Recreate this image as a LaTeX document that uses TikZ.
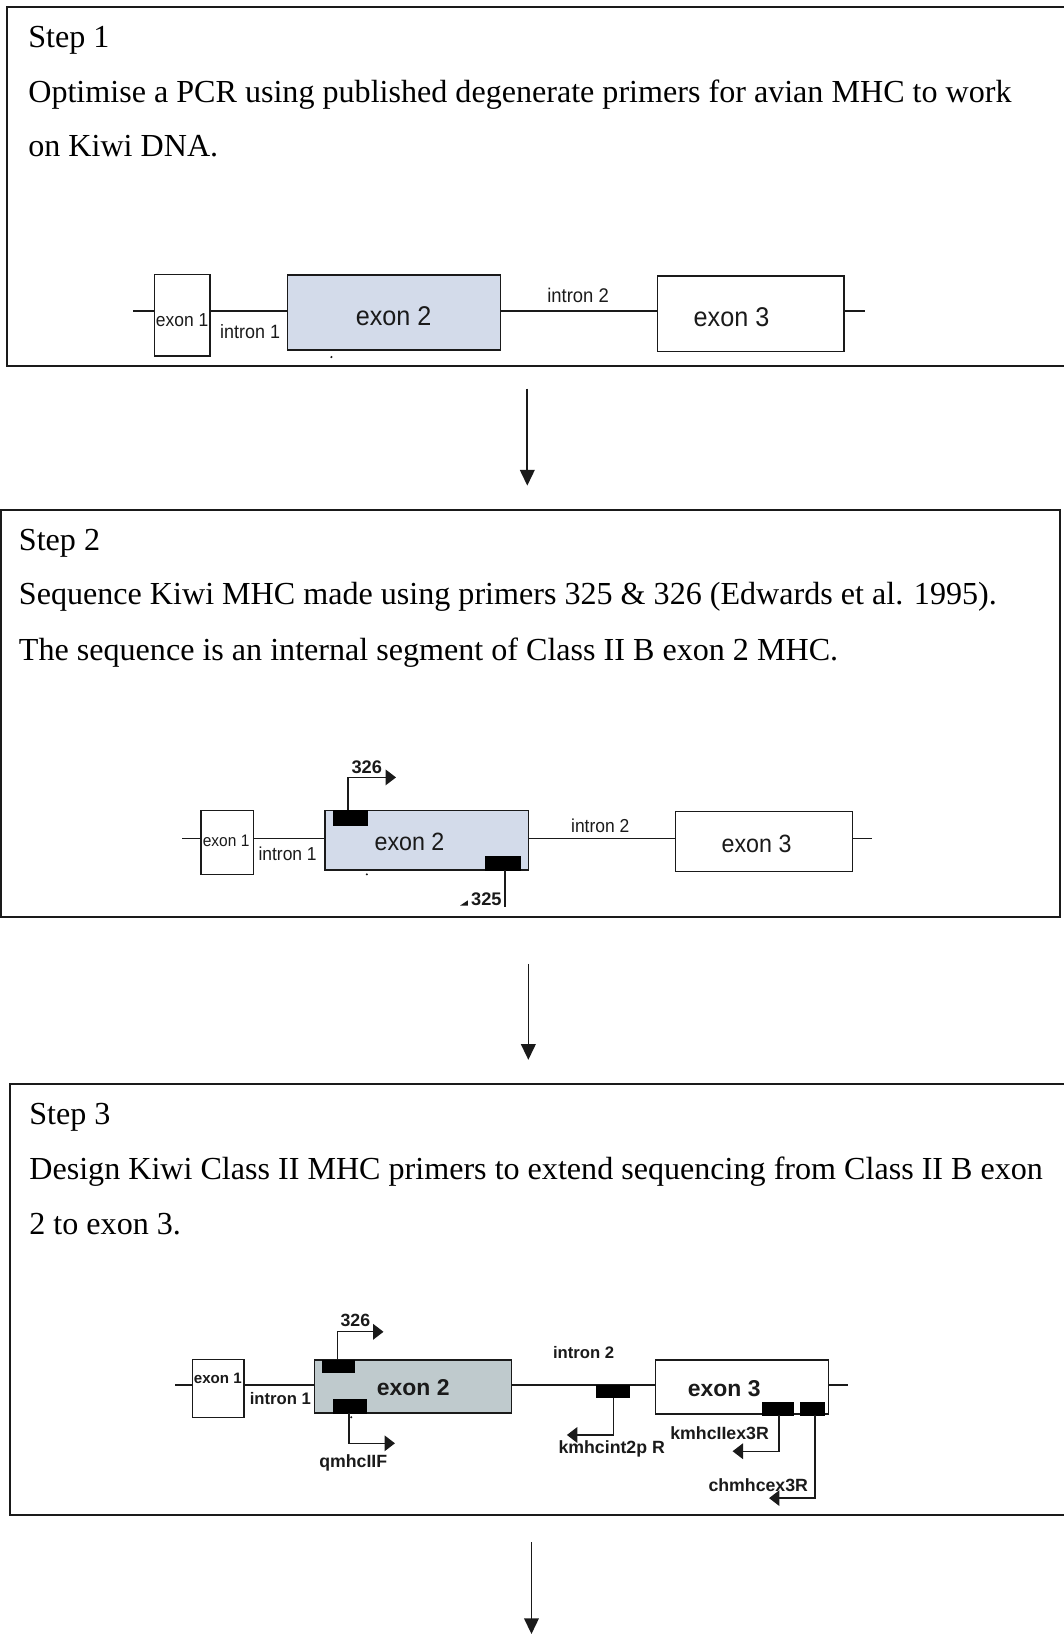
\documentclass[tikz,border=0pt]{standalone}
\usepackage{fontspec}
\setmainfont{Liberation Serif}
\newfontfamily\genefont[FakeStretch=0.93]{Liberation Sans}
\newfontfamily\genesans{Liberation Sans}
\usetikzlibrary{arrows.meta,fit}
\definecolor{exblue}{HTML}{D3DBEA}
\definecolor{exgray}{HTML}{BFCACD}
\definecolor{ink}{HTML}{1A1A1A}
\begin{document}
\begin{tikzpicture}[x=1pt,y=-1pt,
  frame/.style={draw=ink, line width=1.8pt, inner sep=0pt},
  steptext/.style={anchor=base west, inner sep=0pt, font=\fontsize{30.8}{36}\selectfont},
  exonbox/.style={draw=ink, line width=1.3pt, fill=white, inner sep=0pt},
  primer/.style={fill=black, draw=black, line width=0.5pt, inner sep=0pt},
  backbone/.style={draw=ink, line width=1.1pt},
  flow/.style={draw=ink, line width=1.6pt, -{Triangle[length=15pt,width=14pt]}},
  primarrow/.style={draw=ink, line width=1.3pt, -{Triangle[length=10pt,width=15pt]}},
  lab/.style={anchor=base, inner sep=0pt, text=ink},
  dotmark/.style={circle, fill=ink, inner sep=0pt, minimum size=2.2pt}
]
\useasboundingbox (0,0) rectangle (1021,1568);

% ---------- frames ----------
\node[frame, fit={(7,7) (1035,351)}] (f1) {};
\node[frame, fit={(1,489) (1017,880)}] (f2) {};
\node[frame, fit={(10,1040) (1035,1454)}] (f3) {};

% ---------- step texts ----------
\node[steptext] (s1a) at (27,45.5) {Step 1};
\node[steptext] (s1b) at (27,98.5) {Optimise a PCR using published degenerate primers for avian MHC to work};
\node[steptext] (s1c) at (27,150.5) {on Kiwi DNA.};

\node[steptext] (s2a) at (18,528.5) {Step 2};
\node[steptext] (s2b) at (18,580.5) {Sequence Kiwi MHC made using primers 325 \& 326 (Edwards et al. 1995).};
\node[steptext] (s2c) at (18,633.5) {The sequence is an internal segment of Class II B exon 2 MHC.};

\node[steptext] (s3a) at (28,1079.5) {Step 3};
\node[steptext] (s3b) at (28,1131.5) {Design Kiwi Class II MHC primers to extend sequencing from Class II B exon};
\node[steptext] (s3c) at (28,1184.5) {2 to exon 3.};

% ---------- flow arrows ----------
\coordinate (a1s) at (506,373); \coordinate (a1e) at (506,466);
\coordinate (a2s) at (507,925); \coordinate (a2e) at (507,1017);
\coordinate (a3s) at (510,1480); \coordinate (a3e) at (510,1568);
\draw[flow] (a1s) -- (a1e);
\draw[flow] (a2s) -- (a2e);
\draw[flow] (a3s) -- (a3e);

% ---------- diagram 1 ----------
\coordinate (b1s) at (128,298.5); \coordinate (b1e) at (830,298.5);
\draw[backbone] (b1s) -- (b1e);
\node[exonbox, fit={(148,263.5) (201.5,341.5)}] (d1e1) {};
\node[exonbox, fill=exblue, fit={(276,264) (480,336)}] (d1e2) {};
\node[exonbox, fit={(631,265) (810,337.5)}] (d1e3) {};
\node[lab, font=\genefont\fontsize{18}{20}\selectfont] (d1t1) at (174.8,313.5) {exon 1};
\node[lab, font=\genefont\fontsize{18.5}{20}\selectfont] (d1i1) at (240,324.7) {intron 1};
\node[lab, font=\genefont\fontsize{26}{28}\selectfont] (d1t2) at (377.8,312) {exon 2};
\node[lab, font=\genefont\fontsize{19}{20}\selectfont] (d1i2) at (554.7,290.5) {intron 2};
\node[lab, font=\genefont\fontsize{26}{28}\selectfont] (d1t3) at (702,313) {exon 3};
\node[dotmark] (d1dot) at (318,342.6) {};

% ---------- diagram 2 ----------
\coordinate (b2s) at (175,805); \coordinate (b2e) at (837,805);
\draw[backbone] (b2s) -- (b2e);
\node[exonbox, fit={(193,778) (243,839)}] (d2e1) {};
\node[exonbox, fill=exblue, fit={(312,778) (507,835)}] (d2e2) {};
\node[exonbox, fit={(648,779) (818,836)}] (d2e3) {};
\node[primer, fit={(320,778) (352,792)}] (p326a) {};
\node[primer, fit={(466,822) (499,835)}] (p325) {};
\coordinate (p326aup) at (334,746); \coordinate (p326atip) at (380,746);
\draw[primarrow] (p326a.north -| 334,0) -- (p326aup) -- (p326atip);
\coordinate (p325dn) at (484.6,870);
\draw[draw=ink, line width=1.3pt] (p325.south -| 484.6,0) -- (p325dn);
\node[lab, font=\genesans\bfseries\fontsize{17.5}{20}\selectfont] (l326a) at (352,742) {326};
\node[lab, anchor=base east, font=\genesans\bfseries\fontsize{17.5}{20}\selectfont] (l325) at (481.5,868.5) {325};
\fill[ink] (441.5,869) -- (449,869) -- (449,864) -- cycle;
\node[lab, font=\genefont\fontsize{16}{18}\selectfont] (d2t1) at (217,812) {exon 1};
\node[lab, font=\genefont\fontsize{18}{20}\selectfont] (d2i1) at (276,826) {intron 1};
\node[lab, font=\genefont\fontsize{24}{26}\selectfont] (d2t2) at (393,816.5) {exon 2};
\node[lab, font=\genefont\fontsize{18}{20}\selectfont] (d2i2) at (576,799) {intron 2};
\node[lab, font=\genefont\fontsize{24}{26}\selectfont] (d2t3) at (726,818.5) {exon 3};
\node[dotmark] (d2dot) at (352,839) {};

% ---------- diagram 3 ----------
\coordinate (b3s) at (168,1329); \coordinate (b3e) at (814,1329);
\draw[backbone] (b3s) -- (b3e);
\node[exonbox, fit={(185,1304.5) (234,1360)}] (d3e1) {};
\node[exonbox, fill=exgray, fit={(302,1305) (491,1356)}] (d3e2) {};
\node[exonbox, fit={(629,1305) (795,1357)}] (d3e3) {};
\node[primer, fit={(309,1305) (340,1317)}] (p326b) {};
\node[primer, fit={(320,1343) (351,1356)}] (pq) {};
\node[primer, fit={(572,1329) (604,1341)}] (pint) {};
\node[primer, fit={(731,1346) (761,1358)}] (pk3) {};
\node[primer, fit={(768,1346) (791,1358)}] (pc3) {};
\coordinate (p326bup) at (324,1278); \coordinate (p326btip) at (368,1278);
\draw[primarrow] (p326b.north -| 324,0) -- (p326bup) -- (p326btip);
\coordinate (pqdn) at (335,1385); \coordinate (pqtip) at (379,1385);
\draw[primarrow] (pq.south -| 335,0) -- (pqdn) -- (pqtip);
\coordinate (pintdn) at (589,1377); \coordinate (pinttip) at (544,1377);
\draw[primarrow] (pint.south -| 589,0) -- (pintdn) -- (pinttip);
\coordinate (pk3dn) at (747.6,1392.6); \coordinate (pk3tip) at (703,1392.6);
\draw[primarrow] (pk3.south -| 747.6,0) -- (pk3dn) -- (pk3tip);
\coordinate (pc3dn) at (782,1437.6); \coordinate (pc3tip) at (738,1437.6);
\draw[primarrow] (pc3.south -| 782,0) -- (pc3dn) -- (pc3tip);
\node[lab, font=\genesans\bfseries\fontsize{17}{20}\selectfont] (l326b) at (341,1273) {326};
\node[lab, font=\genesans\bfseries\fontsize{17}{20}\selectfont] (lq) at (339,1408) {qmhcIIF};
\node[lab, font=\genesans\bfseries\fontsize{17}{20}\selectfont] (lint) at (587,1395) {kmhcint2p R};
\node[lab, font=\genesans\bfseries\fontsize{17}{20}\selectfont] (lk3) at (690.5,1381) {kmhcIIex3R};
\node[lab, font=\genesans\bfseries\fontsize{17}{20}\selectfont] (lc3) at (727.6,1431.6) {chmhcex3R};
\node[lab, font=\genesans\bfseries\fontsize{14.5}{16}\selectfont] (d3t1) at (209,1327.5) {exon 1};
\node[lab, font=\genesans\bfseries\fontsize{16}{18}\selectfont] (d3i1) at (269,1347.5) {intron 1};
\node[lab, font=\genesans\bfseries\fontsize{22}{24}\selectfont] (d3t2) at (396.6,1338.7) {exon 2};
\node[lab, font=\genesans\bfseries\fontsize{16}{18}\selectfont] (d3i2) at (560,1303.5) {intron 2};
\node[lab, font=\genesans\bfseries\fontsize{22}{24}\selectfont] (d3t3) at (695,1340.4) {exon 3};
\node[dotmark] (d3dot) at (337,1360) {};
\end{tikzpicture}
\end{document}
